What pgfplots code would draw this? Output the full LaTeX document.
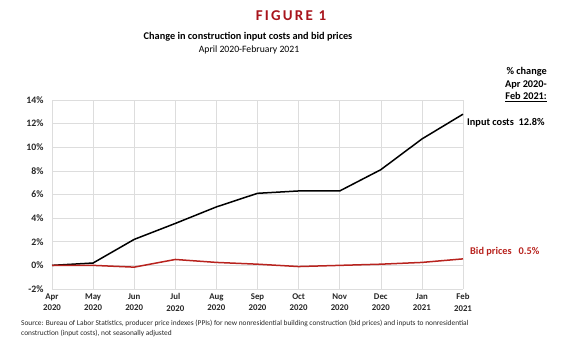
\documentclass[border=0pt]{standalone}
\usepackage{pgfplots}
\pgfplotsset{compat=1.18}
\usepackage{fontspec}
\setmainfont{Carlito}
\definecolor{figred}{HTML}{A8141C}
\definecolor{bidred}{HTML}{B8231E}
\definecolor{gridgray}{HTML}{DDDDDD}
\begin{document}
\begin{tikzpicture}[x=1pt,y=1pt]
\path[use as bounding box] (-52,-66) rectangle (525,289);
\begin{axis}[
  at={(0,0)}, anchor=south west,
  scale only axis, width=411pt, height=189pt,
  xmin=0, xmax=10, ymin=-2, ymax=14,
  axis line style={draw=none},
  grid=major,
  major grid style={gridgray, line width=0.6pt},
  tick style={draw=none},
  xtick={0,...,10},
  xticklabels={Apr\\2020,May\\2020,Jun\\2020,Jul\\2020,Aug\\2020,Sep\\2020,Oct\\2020,Nov\\2020,Dec\\2020,Jan\\2021,Feb\\2021},
  xticklabel style={align=center, font=\fontsize{8.8}{11.5}\selectfont\bfseries, text=black!85, yshift=-1pt},
  ytick={-2,0,...,14},
  yticklabel={\pgfmathprintnumber{\tick}\%},
  yticklabel style={font=\fontsize{9.8}{11}\selectfont\bfseries, text=black!85, xshift=-5pt},
  /pgf/number format/assume math mode=true,
  clip=false,
]
\addplot[black, line width=1.5pt] coordinates {
 (0,0) (1,0.2) (2,2.2) (3,3.55) (4,4.95) (5,6.1) (6,6.3) (7,6.3) (8,8.1) (9,10.7) (10,12.8)};
\addplot[bidred, line width=1.5pt] coordinates {
 (0,0) (1,0.0) (2,-0.15) (3,0.5) (4,0.25) (5,0.1) (6,-0.1) (7,0.0) (8,0.1) (9,0.25) (10,0.55)};
\end{axis}
% annotations (picture coords: x = px-52, y = 289-px)
\node[font=\fontsize{15}{17}\selectfont\bfseries\addfontfeatures{LetterSpace=15}, text=figred] at (239,273) {FIGURE 1};
\node[font=\fontsize{10.3}{12}\selectfont\bfseries] at (196,252) {Change in construction input costs and bid prices};
\node[font=\fontsize{9.7}{11}\selectfont] at (197,239) {April 2020-February 2021};
\node[font=\fontsize{10.3}{12}\selectfont\bfseries, anchor=east, inner sep=0pt] at (495,217) {\% change};
\node[font=\fontsize{10.3}{12}\selectfont\bfseries, anchor=east, inner sep=0pt] at (495,204) {Apr 2020-};
\node[font=\fontsize{10.3}{12}\selectfont\bfseries, anchor=east, inner sep=0pt] at (495,192) {\underline{Feb 2021:}};
\node[font=\fontsize{10.3}{12}\selectfont\bfseries, anchor=west, inner sep=0pt] at (415,166) {Input costs\ \ 12.8\%};
\node[font=\fontsize{10.3}{12}\selectfont\bfseries, text=bidred, anchor=west, inner sep=0pt] at (418,37) {Bid prices\ \ \ 0.5\%};
\node[font=\fontsize{7.4}{10}\selectfont, anchor=north west, align=left, inner sep=0pt, text=black!85] at (-31,-31) {Source: Bureau of Labor Statistics, producer price indexes (PPIs) for new nonresidential building construction (bid prices) and inputs to nonresidential\\construction (input costs), not seasonally adjusted};
\end{tikzpicture}
\end{document}
